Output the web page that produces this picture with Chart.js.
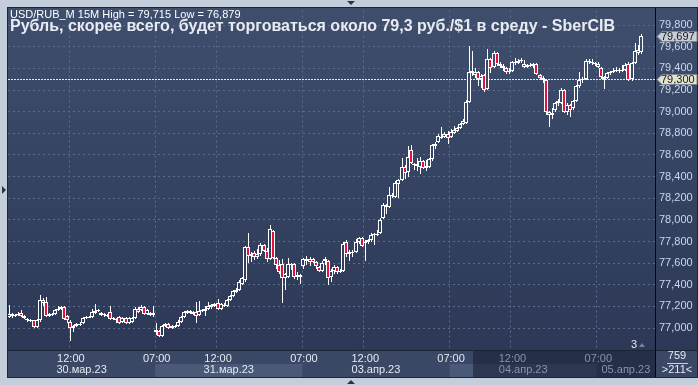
<!DOCTYPE html>
<html>
<head>
<meta charset="utf-8">
<script src="https://cdn.jsdelivr.net/npm/chart.js@4.4.0/dist/chart.umd.min.js"></script>
<style>
  html, body { margin: 0; padding: 0; background: #c4ceda; }
  canvas { display: block; }
</style>
</head>
<body>
<canvas id="chart" width="698" height="385"></canvas>
<script>
// USD/RUB_M 15M, свечи
const dayNames = ['30.мар.23', '31.мар.23', '03.апр.23', '04.апр.23', '05.апр.23'];
const barsPerDay = [48, 48, 48, 48, 15];
const emptySlots = 4;
const timeTicks = ['07:00', '12:00'];
const yTicks = [77.0, 77.2, 77.4, 77.6, 77.8, 78.0, 78.2, 78.4, 78.6, 78.8, 79.0, 79.2, 79.4, 79.6, 79.8];
const lastPrice = 79.697;
const markPrice = 79.3;

const opens = [
  77.10, 77.13, 77.11, 77.12, 77.14, 77.11, 77.08, 77.07, 77.07, 77.01, 77.07, 77.26,
  77.24, 77.11, 77.13, 77.13, 77.17, 77.18, 77.19, 77.11, 77.06, 77.00, 77.02, 77.03,
  77.05, 77.09, 77.10, 77.10, 77.14, 77.16, 77.14, 77.12, 77.12, 77.15, 77.08, 77.08,
  77.10, 77.06, 77.09, 77.05, 77.06, 77.09, 77.18, 77.17, 77.19, 77.13, 77.14, 77.12,
  76.98, 76.97, 76.93, 77.02, 77.04, 77.00, 77.01, 77.02, 77.06, 77.10, 77.14, 77.16,
  77.13, 77.15, 77.12, 77.16, 77.16, 77.18, 77.19, 77.20, 77.23, 77.18, 77.21, 77.20,
  77.26, 77.30, 77.33, 77.35, 77.41, 77.44, 77.75, 77.67, 77.69, 77.66, 77.68, 77.77,
  77.71, 77.64, 77.90, 77.65, 77.58, 77.59, 77.46, 77.47, 77.59, 77.59, 77.47, 77.49,
  77.57, 77.64, 77.64, 77.64, 77.61, 77.56, 77.53, 77.62, 77.62, 77.47, 77.53, 77.56,
  77.52, 77.53, 77.80, 77.68, 77.69, 77.70, 77.80, 77.83, 77.79, 77.80, 77.81, 77.86,
  77.87, 77.88, 78.02, 78.14, 78.12, 78.23, 78.21, 78.33, 78.37, 78.49, 78.44, 78.65,
  78.52, 78.52, 78.49, 78.54, 78.48, 78.49, 78.56, 78.68, 78.72, 78.77, 78.77, 78.79,
  78.77, 78.80, 78.82, 78.85, 78.89, 78.90, 79.09, 79.36, 79.34, 79.37, 79.30, 79.34,
  79.21, 79.49, 79.41, 79.54, 79.44, 79.42, 79.40, 79.37, 79.38, 79.46, 79.45, 79.47,
  79.44, 79.41, 79.43, 79.42, 79.44, 79.34, 79.31, 79.29, 79.00, 78.97, 79.02, 79.08,
  79.08, 79.20, 79.00, 79.06, 79.03, 79.10, 79.24, 79.29, 79.30, 79.47, 79.46, 79.45,
  79.44, 79.40, 79.32, 79.31, 79.36, 79.37, 79.38, 79.39, 79.38, 79.39, 79.44, 79.30,
  79.45, 79.57, 79.55
];
const highs = [
  77.21, 77.14, 77.13, 77.15, 77.17, 77.12, 77.09, 77.08, 77.07, 77.08, 77.31, 77.28,
  77.29, 77.14, 77.14, 77.18, 77.20, 77.20, 77.20, 77.12, 77.07, 77.03, 77.05, 77.06,
  77.10, 77.11, 77.11, 77.18, 77.22, 77.18, 77.15, 77.14, 77.13, 77.20, 77.10, 77.09,
  77.11, 77.10, 77.10, 77.10, 77.10, 77.19, 77.19, 77.21, 77.20, 77.18, 77.15, 77.20,
  77.05, 76.98, 77.03, 77.05, 77.05, 77.03, 77.03, 77.07, 77.11, 77.16, 77.17, 77.17,
  77.16, 77.24, 77.25, 77.18, 77.20, 77.24, 77.22, 77.23, 77.27, 77.23, 77.23, 77.27,
  77.31, 77.35, 77.37, 77.44, 77.47, 77.76, 77.88, 77.70, 77.71, 77.73, 77.79, 77.78,
  77.74, 77.95, 77.91, 77.66, 77.63, 77.64, 77.51, 77.65, 77.60, 77.60, 77.52, 77.50,
  77.65, 77.67, 77.66, 77.65, 77.62, 77.57, 77.62, 77.66, 77.63, 77.55, 77.58, 77.57,
  77.55, 77.80, 77.81, 77.72, 77.72, 77.82, 77.84, 77.84, 77.81, 77.82, 77.88, 77.88,
  77.91, 78.02, 78.16, 78.15, 78.30, 78.25, 78.36, 78.38, 78.57, 78.51, 78.68, 78.69,
  78.53, 78.57, 78.58, 78.55, 78.55, 78.57, 78.70, 78.72, 78.79, 78.86, 78.81, 78.82,
  78.84, 78.87, 78.86, 78.90, 78.93, 79.11, 79.61, 79.56, 79.40, 79.38, 79.35, 79.35,
  79.58, 79.50, 79.56, 79.55, 79.46, 79.44, 79.41, 79.40, 79.47, 79.50, 79.49, 79.50,
  79.48, 79.44, 79.45, 79.45, 79.45, 79.35, 79.33, 79.30, 79.01, 79.03, 79.09, 79.12,
  79.22, 79.21, 79.08, 79.07, 79.11, 79.25, 79.37, 79.32, 79.49, 79.49, 79.49, 79.46,
  79.46, 79.41, 79.33, 79.37, 79.38, 79.40, 79.41, 79.40, 79.43, 79.45, 79.46, 79.46,
  79.64, 79.62, 79.715
];
const lows = [
  77.09, 77.09, 77.10, 77.11, 77.10, 77.08, 77.06, 77.06, 77.00, 77.00, 77.06, 77.20,
  77.10, 77.10, 77.11, 77.12, 77.16, 77.17, 77.07, 77.05, 76.879, 76.96, 77.01, 77.02,
  77.04, 77.08, 77.09, 77.09, 77.13, 77.15, 77.11, 77.10, 77.10, 77.07, 77.07, 77.05,
  77.04, 77.05, 77.04, 77.04, 77.05, 77.08, 77.14, 77.16, 77.12, 77.12, 77.11, 77.10,
  76.94, 76.92, 76.92, 77.01, 76.99, 76.99, 77.00, 77.01, 77.05, 77.09, 77.13, 77.13,
  77.12, 77.05, 77.11, 77.15, 77.11, 77.17, 77.18, 77.19, 77.17, 77.17, 77.19, 77.19,
  77.25, 77.29, 77.32, 77.34, 77.40, 77.43, 77.60, 77.61, 77.63, 77.64, 77.67, 77.70,
  77.61, 77.63, 77.64, 77.55, 77.50, 77.23, 77.35, 77.46, 77.54, 77.45, 77.44, 77.41,
  77.55, 77.58, 77.57, 77.60, 77.55, 77.52, 77.52, 77.58, 77.40, 77.43, 77.50, 77.50,
  77.51, 77.52, 77.66, 77.62, 77.66, 77.69, 77.78, 77.75, 77.62, 77.78, 77.80, 77.77,
  77.85, 77.87, 78.01, 78.05, 78.11, 78.20, 78.20, 78.20, 78.36, 78.38, 78.40, 78.52,
  78.46, 78.45, 78.42, 78.47, 78.45, 78.48, 78.54, 78.66, 78.71, 78.75, 78.76, 78.70,
  78.76, 78.79, 78.81, 78.84, 78.88, 78.89, 79.08, 79.33, 79.31, 79.24, 79.22, 79.18,
  79.20, 79.36, 79.40, 79.42, 79.40, 79.38, 79.35, 79.35, 79.37, 79.43, 79.44, 79.45,
  79.40, 79.40, 79.41, 79.40, 79.34, 79.30, 79.27, 78.97, 78.86, 78.93, 79.00, 79.05,
  79.07, 78.99, 78.97, 78.95, 79.02, 79.09, 79.22, 79.27, 79.29, 79.44, 79.43, 79.42,
  79.40, 79.30, 79.21, 79.30, 79.34, 79.36, 79.37, 79.36, 79.37, 79.38, 79.28, 79.28,
  79.44, 79.52, 79.53
];
const closes = [
  77.13, 77.11, 77.12, 77.13, 77.11, 77.09, 77.07, 77.07, 77.01, 77.07, 77.26, 77.23,
  77.11, 77.13, 77.12, 77.17, 77.18, 77.19, 77.08, 77.07, 77.00, 77.02, 77.04, 77.04,
  77.09, 77.10, 77.10, 77.15, 77.16, 77.17, 77.12, 77.13, 77.11, 77.08, 77.09, 77.07,
  77.05, 77.09, 77.05, 77.09, 77.09, 77.18, 77.15, 77.19, 77.13, 77.17, 77.12, 77.14,
  76.96, 76.93, 77.02, 77.04, 77.00, 77.02, 77.02, 77.06, 77.10, 77.15, 77.16, 77.14,
  77.15, 77.11, 77.16, 77.17, 77.18, 77.20, 77.21, 77.22, 77.18, 77.22, 77.21, 77.26,
  77.30, 77.34, 77.35, 77.43, 77.46, 77.75, 77.67, 77.68, 77.66, 77.68, 77.77, 77.71,
  77.64, 77.92, 77.65, 77.58, 77.52, 77.46, 77.50, 77.59, 77.58, 77.47, 77.49, 77.47,
  77.64, 77.62, 77.61, 77.61, 77.57, 77.53, 77.60, 77.64, 77.46, 77.53, 77.56, 77.52,
  77.53, 77.78, 77.68, 77.70, 77.70, 77.80, 77.83, 77.76, 77.80, 77.81, 77.86, 77.87,
  77.87, 78.00, 78.14, 78.12, 78.23, 78.22, 78.34, 78.37, 78.49, 78.43, 78.58, 78.53,
  78.51, 78.50, 78.54, 78.48, 78.50, 78.56, 78.69, 78.70, 78.78, 78.77, 78.79, 78.76,
  78.81, 78.83, 78.85, 78.89, 78.91, 79.09, 79.37, 79.38, 79.37, 79.30, 79.33, 79.20,
  79.49, 79.40, 79.54, 79.44, 79.42, 79.40, 79.37, 79.38, 79.46, 79.45, 79.47, 79.48,
  79.41, 79.43, 79.42, 79.44, 79.35, 79.31, 79.29, 79.00, 78.97, 78.99, 79.08, 79.10,
  79.20, 79.00, 79.06, 79.02, 79.10, 79.24, 79.29, 79.30, 79.47, 79.46, 79.45, 79.44,
  79.41, 79.32, 79.30, 79.36, 79.37, 79.38, 79.39, 79.38, 79.39, 79.43, 79.29, 79.45,
  79.56, 79.54, 79.697
];

// оформление
const font = '"Liberation Sans", Arial, sans-serif';
const frameColor = '#c4ceda';
const bgTop = [63, 78, 109];
const bgBottom = [44, 56, 86];
const downColor = '#e3123d';
const gridColor = '#5b6b8b';
const overlayX = 473;
const yMin = 76.797, yMax = 79.935;

// подписи времени по барам
const labels = [];
const dayStart = [];
dayNames.forEach((d, k) => {
  dayStart.push(labels.length);
  for (let j = 0; j < barsPerDay[k]; j++) {
    const m = 7 * 60 + j * 15;
    labels.push(String(Math.floor(m / 60)).padStart(2, '0') + ':' + String(m % 60).padStart(2, '0'));
  }
});
for (let j = 0; j < emptySlots; j++) labels.push('');
// первый бар стоит на краю, подпись у него не ставится
const isMarked = i => i > 0 && timeTicks.includes(labels[i]);

function bgAt(t) {
  const c = bgTop.map((v, k) => Math.round(v + (bgBottom[k] - v) * t));
  return 'rgb(' + c.join(',') + ')';
}
const bodyColors = opens.map((o, i) => {
  if (closes[i] < o) return downColor;
  const mid = (o + closes[i]) / 2;
  return bgAt((yMax - mid) / (yMax - yMin));
});
const fmt = v => v.toFixed(3).replace('.', ',');

// ровняем свечи по пикселям, чтобы тени были чёткими
const crispBars = {
  id: 'crispBars',
  afterDatasetsUpdate(chart) {
    chart.data.datasets.forEach((ds, k) => {
      const odd = ds.barThickness % 2 === 1;
      chart.getDatasetMeta(k).data.forEach(el => {
        el.x = Math.floor(el.x) + (odd ? 0.5 : 0);
        el.y = Math.round(el.y);
        el.base = Math.round(el.base);
        if (Math.abs(el.base - el.y) < 1) el.base = el.y + 1;
      });
    });
  }
};

const panels = {
  id: 'panels',
  beforeDraw(chart) {
    const ctx = chart.ctx;
    const xs = chart.scales.x;
    const a = chart.chartArea;
    const half = xs.width / labels.length / 2;
    ctx.save();
    ctx.fillStyle = frameColor;
    ctx.fillRect(0, 0, chart.width, chart.height);
    const g = ctx.createLinearGradient(0, a.top, 0, a.bottom);
    g.addColorStop(0, bgAt(0));
    g.addColorStop(1, bgAt(1));
    ctx.fillStyle = g;
    ctx.fillRect(8, 8, 690, a.bottom - 8);
    ctx.fillStyle = '#3a4866';
    ctx.fillRect(8, a.bottom, 690, 27);
    // полосы дней
    dayStart.forEach((s, k) => {
      if (k % 2 === 1) {
        const x0 = xs.getPixelForValue(s) - half;
        const e = k + 1 < dayStart.length ? dayStart[k + 1] : labels.length;
        const x1 = xs.getPixelForValue(e) - half;
        ctx.fillStyle = '#4a5977';
        ctx.fillRect(x0, a.bottom + 14, Math.min(x1, a.right) - x0, 13);
      }
    });
    ctx.fillStyle = 'rgba(16, 24, 42, 0.5)';
    ctx.fillRect(overlayX, a.bottom + 1, a.right - overlayX, 26);
    ctx.strokeStyle = '#1b2334';
    ctx.lineWidth = 1;
    ctx.beginPath();
    ctx.moveTo(8, a.bottom + 0.5); ctx.lineTo(697, a.bottom + 0.5);
    ctx.stroke();
    ctx.strokeStyle = '#1e2636';
    ctx.strokeRect(7.5, 7.5, 690, 370);
    ctx.strokeStyle = '#05080e';
    ctx.beginPath();
    ctx.moveTo(a.right + 0.5, 8); ctx.lineTo(a.right + 0.5, 377);
    ctx.stroke();
    ctx.restore();
  },
  beforeDatasetsDraw(chart) {
    const ctx = chart.ctx;
    const a = chart.chartArea;
    const y = Math.round(chart.scales.y.getPixelForValue(markPrice)) + 0.5;
    ctx.save();
    ctx.strokeStyle = '#e8e8e8';
    ctx.setLineDash([2, 1]);
    ctx.beginPath();
    ctx.moveTo(a.left, y); ctx.lineTo(a.right, y);
    ctx.stroke();
    ctx.restore();
  },
  afterDraw(chart) {
    const ctx = chart.ctx;
    const xs = chart.scales.x, ys = chart.scales.y;
    const a = chart.chartArea;
    const half = xs.width / labels.length / 2;
    ctx.save();
    // даты по центру дня
    ctx.font = '11px ' + font;
    ctx.textAlign = 'center';
    ctx.textBaseline = 'middle';
    dayStart.forEach((s, k) => {
      const x0 = xs.getPixelForValue(s) - half;
      const e = k + 1 < dayStart.length ? dayStart[k + 1] : labels.length;
      const x1 = Math.min(xs.getPixelForValue(e) - half, a.right);
      const cx = (x0 + x1) / 2;
      ctx.fillStyle = cx > overlayX ? '#8593ab' : '#e4eaf2';
      ctx.fillText(dayNames[k], cx, a.bottom + 20);
    });
    // счётчики справа внизу
    ctx.fillStyle = '#e4eaf2';
    ctx.fillText('759', 677, a.bottom + 6);
    ctx.fillText('>211<', 677, a.bottom + 20);
    ctx.strokeStyle = '#c8d2e0';
    ctx.beginPath();
    ctx.moveTo(667, a.bottom + 13.5); ctx.lineTo(688, a.bottom + 13.5);
    ctx.stroke();
    // маркер "3"
    ctx.fillStyle = '#e4eaf2';
    ctx.fillText('3', 634, a.bottom - 5);
    ctx.fillStyle = '#76839a';
    ctx.beginPath();
    ctx.moveTo(639, a.bottom - 3); ctx.lineTo(645, a.bottom - 3); ctx.lineTo(642, a.bottom - 7);
    ctx.closePath(); ctx.fill();
    // ценовые метки
    const tag = (price, fill) => {
      const y = Math.round(ys.getPixelForValue(price)) + 0.5;
      ctx.beginPath();
      ctx.moveTo(657, y);
      ctx.lineTo(662, y - 5);
      ctx.lineTo(697, y - 5);
      ctx.lineTo(697, y + 5);
      ctx.lineTo(662, y + 5);
      ctx.closePath();
      ctx.fillStyle = fill;
      ctx.fill();
      ctx.strokeStyle = '#7d8594';
      ctx.stroke();
      ctx.fillStyle = '#141a26';
      ctx.textAlign = 'left';
      ctx.fillText(fmt(price), 661, y + 0.5);
    };
    tag(lastPrice, '#c9cdd4');
    tag(markPrice, '#e3e3cc');
    // заголовки
    ctx.textAlign = 'left';
    ctx.fillStyle = '#ffffff';
    ctx.font = '11px ' + font;
    ctx.fillText('USD/RUB_M 15M High = ' + fmt(Math.max(...highs)) + ' Low = ' + fmt(Math.min(...lows)), 10, 15);
    ctx.fillStyle = '#e8ecf2';
    ctx.font = 'bold 16px ' + font;
    ctx.fillText('Рубль, скорее всего, будет торговаться около 79,3 руб./$1 в среду - SberCIB', 10, 27);
    // треугольники разделителей
    ctx.fillStyle = '#2a3444';
    ctx.beginPath(); ctx.moveTo(347, 1); ctx.lineTo(355, 1); ctx.lineTo(351, 5); ctx.closePath(); ctx.fill();
    ctx.beginPath(); ctx.moveTo(347, 384); ctx.lineTo(355, 384); ctx.lineTo(351, 380); ctx.closePath(); ctx.fill();
    ctx.beginPath(); ctx.moveTo(2, 186); ctx.lineTo(2, 194); ctx.lineTo(6, 190); ctx.closePath(); ctx.fill();
    ctx.restore();
  }
};

new Chart(document.getElementById('chart'), {
  type: 'bar',
  data: {
    labels: labels,
    datasets: [
      {
        label: 'тело',
        data: opens.map((o, i) => [o, closes[i]]),
        backgroundColor: bodyColors,
        borderColor: '#ffffff',
        borderWidth: 1,
        borderSkipped: false,
        barThickness: 4,
        inflateAmount: 0,
        grouped: false,
        order: 1
      },
      {
        label: 'тень',
        data: lows.map((l, i) => [l, highs[i]]),
        backgroundColor: '#ffffff',
        borderWidth: 0,
        barThickness: 1,
        inflateAmount: 0,
        grouped: false,
        order: 2
      }
    ]
  },
  options: {
    responsive: false,
    animation: false,
    layout: { padding: { left: 8, top: 8, right: 1, bottom: 8 } },
    plugins: {
      legend: { display: false },
      tooltip: { enabled: false }
    },
    scales: {
      x: {
        offset: true,
        grid: {
          offset: true,
          drawTicks: false,
          color: c => isMarked(c.index) ? gridColor : 'rgba(0,0,0,0)'
        },
        border: { display: false, dash: [2, 3] },
        ticks: {
          autoSkip: false,
          maxRotation: 0,
          minRotation: 0,
          padding: 2,
          font: { family: font, size: 11 },
          color: c => c.chart.scales.x.getPixelForTick(c.index) > overlayX ? '#8593ab' : '#e4eaf2',
          callback: (v, i) => isMarked(i) ? labels[i] : ''
        },
        afterFit: s => { s.height = 27; }
      },
      y: {
        position: 'right',
        min: yMin,
        max: yMax,
        grid: { drawTicks: false, color: gridColor },
        border: { display: false, dash: [2, 3] },
        afterBuildTicks: s => { s.ticks = yTicks.map(v => ({ value: v })); },
        ticks: {
          padding: 4,
          font: { family: font, size: 11 },
          color: '#cad7ee',
          callback: v => fmt(v)
        },
        afterFit: s => { s.width = 42; }
      }
    }
  },
  plugins: [crispBars, panels]
});
</script>
</body>
</html>
